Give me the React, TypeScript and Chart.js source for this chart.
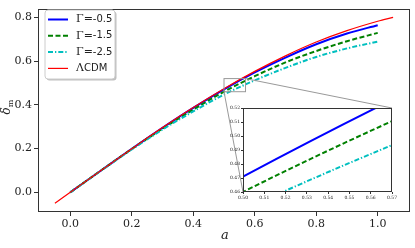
import React, { useEffect, useRef } from "react";
import { Chart, registerables } from "chart.js";
Chart.register(...registerables);

// ---- data ----
const aGamma = [0, 0.1, 0.2, 0.3, 0.4, 0.5, 0.6, 0.7, 0.8, 0.9, 1.0];
const deltaGm05 = [0, 0.1, 0.199, 0.295, 0.386, 0.471, 0.548, 0.616, 0.677, 0.726, 0.764];
const deltaGm15 = [0, 0.1, 0.198, 0.291, 0.378, 0.46, 0.531, 0.594, 0.646, 0.691, 0.729];
const deltaGm25 = [0, 0.099, 0.196, 0.287, 0.37, 0.447, 0.512, 0.569, 0.619, 0.658, 0.689];
const aLCDM = [-0.05, 0, 0.1, 0.2, 0.3, 0.4, 0.5, 0.6, 0.7, 0.8, 0.9, 1.0, 1.05];
const deltaLCDM = [-0.05, 0, 0.1, 0.199, 0.296, 0.388, 0.474, 0.553, 0.624, 0.687, 0.739, 0.782, 0.8];
const seriesLabels = ["Γ=-0.5", "Γ=-1.5", "Γ=-2.5", "ΛCDM"];

const xTicks = [0.0, 0.2, 0.4, 0.6, 0.8, 1.0];
const yTicks = [0.0, 0.2, 0.4, 0.6, 0.8];
const insetXTicks = [0.5, 0.51, 0.52, 0.53, 0.54, 0.55, 0.56, 0.57];
const insetYTicks = [0.46, 0.47, 0.48, 0.49, 0.5, 0.51, 0.52];
const insetXRange = [0.5, 0.57];
const insetYRange = [0.46, 0.52];

const xLabel = "a";
const yLabelMain = "δ";
const yLabelSub = "m";

// ---- layout ----
const W = 415;
const H = 248;
const INSET_LEFT = 225;
const INSET_TOP = 100;
const INSET_W = 175;
const INSET_H = 105;

const SERIF = "'DejaVu Serif', serif";
const SANS = "'DejaVu Sans', sans-serif";
const TXT = "#222";
const FRAME = "#333";

const styles = [
  { color: "#0000ff", width: 2, dash: [] as number[], order: 3 },
  { color: "#008000", width: 2, dash: [5, 2.5], order: 2 },
  { color: "#00bfbf", width: 2, dash: [5, 2, 1.3, 2], order: 1 },
  { color: "#ff0000", width: 1.2, dash: [] as number[], order: 0 },
];
const seriesX = [aGamma, aGamma, aGamma, aLCDM];
const seriesY = [deltaGm05, deltaGm15, deltaGm25, deltaLCDM];

function makeDatasets(n: number) {
  return styles.slice(0, n).map((s, i) => ({
    label: seriesLabels[i],
    data: seriesX[i].map((x, j) => ({ x, y: seriesY[i][j] })),
    borderColor: s.color,
    backgroundColor: s.color,
    borderWidth: s.width,
    borderDash: s.dash,
    pointRadius: 0,
    showLine: true,
    fill: false,
    cubicInterpolationMode: "monotone" as const,
    order: s.order,
  }));
}

function frameRect(ctx: CanvasRenderingContext2D, ca: any) {
  ctx.save();
  ctx.strokeStyle = FRAME;
  ctx.lineWidth = 1;
  ctx.setLineDash([]);
  const l = Math.round(ca.left) + 0.5;
  const t = Math.round(ca.top) + 0.5;
  const r = Math.round(ca.right) - 0.5;
  const b = Math.round(ca.bottom) - 0.5;
  ctx.strokeRect(l, t, r - l, b - t);
  ctx.restore();
}

export default function App() {
  const mainRef = useRef<HTMLCanvasElement>(null);
  const insetRef = useRef<HTMLCanvasElement>(null);

  useEffect(() => {
    const insetCanvas = insetRef.current!;
    const mainCanvas = mainRef.current!;

    const insetPlugin = {
      id: "insetDecor",
      beforeDraw(chart: any) {
        const { ctx, chartArea: ca } = chart;
        ctx.save();
        ctx.fillStyle = "#fff";
        ctx.fillRect(ca.left, ca.top, ca.right - ca.left, ca.bottom - ca.top);
        ctx.restore();
      },
      afterDraw(chart: any) {
        frameRect(chart.ctx, chart.chartArea);
      },
    };

    const inset = new Chart(insetCanvas, {
      type: "scatter",
      data: { datasets: makeDatasets(3) as any },
      options: {
        responsive: false,
        animation: false,
        devicePixelRatio: 1,
        layout: { padding: { top: 8, right: 8, left: 0, bottom: 0 } },
        plugins: { legend: { display: false }, tooltip: { enabled: false } },
        scales: {
          x: {
            type: "linear",
            min: insetXRange[0],
            max: insetXRange[1],
            afterBuildTicks: (s: any) => {
              s.ticks = insetXTicks.map((v) => ({ value: v }));
            },
            afterFit: (s: any) => {
              s.height = 13;
            },
            border: { display: false },
            grid: { drawOnChartArea: false, drawTicks: true, tickLength: 2, color: FRAME },
            ticks: {
              autoSkip: false,
              maxRotation: 0,
              padding: 1,
              color: TXT,
              font: { family: SERIF, size: 4.5 },
              callback: (v: any) => Number(v).toFixed(2),
            },
          },
          y: {
            type: "linear",
            min: insetYRange[0],
            max: insetYRange[1],
            afterBuildTicks: (s: any) => {
              s.ticks = insetYTicks.map((v) => ({ value: v }));
            },
            afterFit: (s: any) => {
              s.width = 18;
            },
            border: { display: false },
            grid: { drawOnChartArea: false, drawTicks: true, tickLength: 2, color: FRAME },
            ticks: {
              autoSkip: false,
              padding: 1,
              color: TXT,
              font: { family: SERIF, size: 4.5 },
              callback: (v: any) => Number(v).toFixed(2),
            },
          },
        },
      },
      plugins: [insetPlugin],
    });

    const mainPlugin = {
      id: "mainDecor",
      beforeDraw(chart: any) {
        const { ctx, width, height } = chart;
        ctx.save();
        ctx.fillStyle = "#fff";
        ctx.fillRect(0, 0, width, height);
        ctx.restore();
      },
      afterDatasetsDraw(chart: any) {
        const { ctx, scales } = chart;
        const xs = scales.x;
        const ys = scales.y;
        const rx0 = xs.getPixelForValue(insetXRange[0]);
        const rx1 = xs.getPixelForValue(insetXRange[1]);
        const ry0 = ys.getPixelForValue(insetYRange[0]);
        const ry1 = ys.getPixelForValue(insetYRange[1]);
        ctx.save();
        ctx.strokeStyle = "#999";
        ctx.lineWidth = 1;
        ctx.setLineDash([]);
        ctx.strokeRect(rx0, ry1, rx1 - rx0, ry0 - ry1);
        const ic = inset.chartArea;
        ctx.beginPath();
        ctx.moveTo(rx1, ry1);
        ctx.lineTo(INSET_LEFT + ic.right, INSET_TOP + ic.top);
        ctx.moveTo(rx0, ry0);
        ctx.lineTo(INSET_LEFT + ic.left, INSET_TOP + ic.bottom);
        ctx.stroke();
        ctx.restore();
      },
      afterDraw(chart: any) {
        const { ctx, chartArea: ca } = chart;
        frameRect(ctx, ca);

        // axis titles
        ctx.save();
        ctx.fillStyle = TXT;
        ctx.font = `italic 13px ${SERIF}`;
        ctx.textAlign = "center";
        ctx.textBaseline = "alphabetic";
        ctx.fillText(xLabel, (ca.left + ca.right) / 2 + 1, 239);
        ctx.restore();

        ctx.save();
        ctx.fillStyle = TXT;
        ctx.translate(10, 107);
        ctx.rotate(-Math.PI / 2);
        ctx.font = `italic 12px ${SERIF}`;
        const w1 = ctx.measureText(yLabelMain).width;
        ctx.font = `8px ${SERIF}`;
        const w2 = ctx.measureText(yLabelSub).width;
        const start = -(w1 + w2) / 2;
        ctx.textAlign = "left";
        ctx.textBaseline = "alphabetic";
        ctx.font = `italic 12px ${SERIF}`;
        ctx.fillText(yLabelMain, start, 0);
        ctx.font = `8px ${SERIF}`;
        ctx.fillText(yLabelSub, start + w1, 3);
        ctx.restore();

        // legend
        const bx = 45, by = 10, bw = 70, bh = 69, r = 3;
        ctx.save();
        const rr = (x: number, y: number, w: number, h: number) => {
          ctx.beginPath();
          ctx.moveTo(x + r, y);
          ctx.lineTo(x + w - r, y);
          ctx.quadraticCurveTo(x + w, y, x + w, y + r);
          ctx.lineTo(x + w, y + h - r);
          ctx.quadraticCurveTo(x + w, y + h, x + w - r, y + h);
          ctx.lineTo(x + r, y + h);
          ctx.quadraticCurveTo(x, y + h, x, y + h - r);
          ctx.lineTo(x, y + r);
          ctx.quadraticCurveTo(x, y, x + r, y);
          ctx.closePath();
        };
        rr(bx + 1.5, by + 1.5, bw, bh);
        ctx.fillStyle = "rgba(0,0,0,0.25)";
        ctx.fill();
        rr(bx, by, bw, bh);
        ctx.fillStyle = "#fff";
        ctx.fill();
        ctx.strokeStyle = "#ccc";
        ctx.lineWidth = 1;
        ctx.stroke();
        for (let i = 0; i < 4; i++) {
          const s = styles[i];
          const yy = by + 9.5 + i * 16.3;
          ctx.beginPath();
          ctx.strokeStyle = s.color;
          ctx.lineWidth = s.width;
          ctx.setLineDash(s.dash);
          ctx.moveTo(48, yy);
          ctx.lineTo(68, yy);
          ctx.stroke();
          ctx.setLineDash([]);
          const label = seriesLabels[i];
          let serifPart: string;
          let sansPart: string;
          const eq = label.indexOf("=");
          if (eq >= 0) {
            serifPart = label.slice(0, eq + 1);
            sansPart = label.slice(eq + 1);
          } else {
            serifPart = label.slice(0, 1);
            sansPart = label.slice(1);
          }
          ctx.fillStyle = TXT;
          ctx.textBaseline = "middle";
          ctx.textAlign = "left";
          ctx.font = `11px ${SERIF}`;
          ctx.fillText(serifPart, 76, yy);
          const sw = ctx.measureText(serifPart).width;
          ctx.font = `10px ${SANS}`;
          ctx.fillText(sansPart, 76 + sw, yy);
        }
        ctx.restore();
      },
    };

    const main = new Chart(mainCanvas, {
      type: "scatter",
      data: { datasets: makeDatasets(4) as any },
      options: {
        responsive: false,
        animation: false,
        devicePixelRatio: 1,
        layout: { padding: { top: 4, right: 5, left: 0, bottom: 0 } },
        plugins: { legend: { display: false }, tooltip: { enabled: false } },
        scales: {
          x: {
            type: "linear",
            min: -0.105,
            max: 1.105,
            afterBuildTicks: (s: any) => {
              s.ticks = xTicks.map((v) => ({ value: v }));
            },
            afterFit: (s: any) => {
              s.height = 36;
            },
            border: { display: false },
            grid: { drawOnChartArea: false, drawTicks: true, tickLength: 4, color: FRAME },
            ticks: {
              autoSkip: false,
              maxRotation: 0,
              padding: 2,
              color: TXT,
              font: { family: SERIF, size: 11 },
              callback: (v: any) => Number(v).toFixed(1),
            },
          },
          y: {
            type: "linear",
            min: -0.09,
            max: 0.84,
            afterBuildTicks: (s: any) => {
              s.ticks = yTicks.map((v) => ({ value: v }));
            },
            afterFit: (s: any) => {
              s.width = 38;
            },
            border: { display: false },
            grid: { drawOnChartArea: false, drawTicks: true, tickLength: 4, color: FRAME },
            ticks: {
              autoSkip: false,
              padding: 2,
              color: TXT,
              font: { family: SERIF, size: 11 },
              callback: (v: any) => Number(v).toFixed(1),
            },
          },
        },
      },
      plugins: [mainPlugin],
    });

    return () => {
      main.destroy();
      inset.destroy();
    };
  }, []);

  return (
    <div style={{ position: "fixed", left: 0, top: 0, width: W, height: H, background: "#fff" }}>
      <canvas
        ref={mainRef}
        width={W}
        height={H}
        style={{ position: "absolute", left: 0, top: 0, width: W, height: H }}
      />
      <canvas
        ref={insetRef}
        width={INSET_W}
        height={INSET_H}
        style={{ position: "absolute", left: INSET_LEFT, top: INSET_TOP, width: INSET_W, height: INSET_H }}
      />
    </div>
  );
}
